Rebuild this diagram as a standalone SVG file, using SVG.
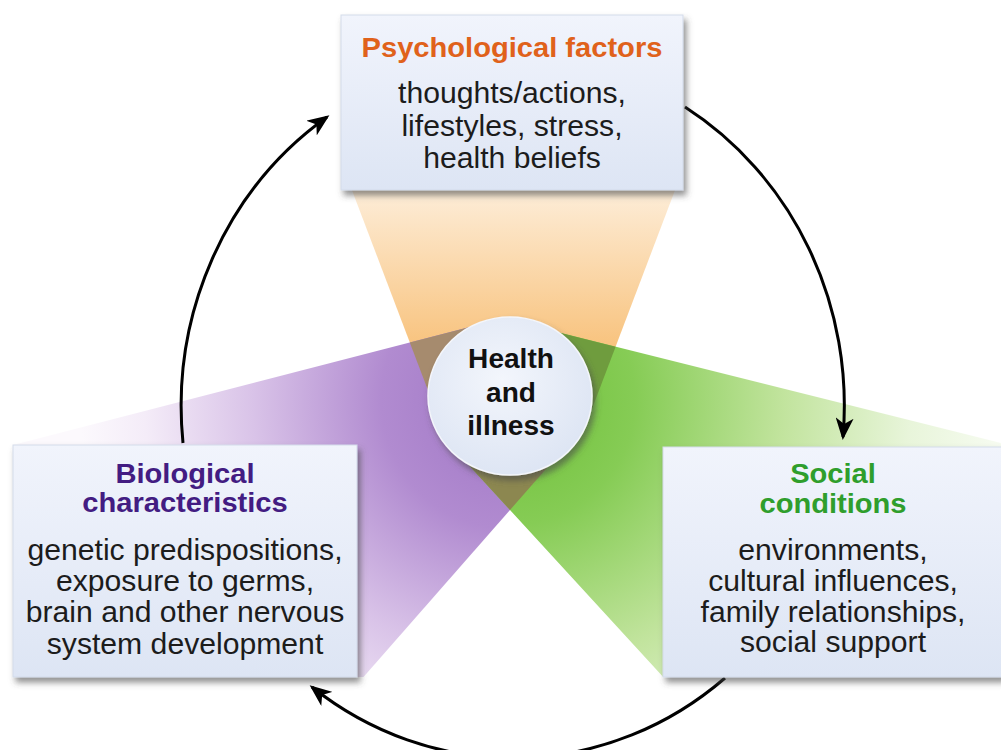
<svg xmlns="http://www.w3.org/2000/svg" width="1001" height="750" viewBox="0 0 1001 750">
<defs>
<style>
.title{font-family:"Liberation Sans",Arial,sans-serif;font-weight:bold;font-size:28px;text-anchor:middle}
.body{font-family:"Liberation Sans",Arial,sans-serif;font-size:29px;text-anchor:middle;fill:#1c1c1c}
.hub{font-family:"Liberation Sans",Arial,sans-serif;font-weight:bold;font-size:27px;text-anchor:middle;fill:#111}
.box{fill:url(#boxFill);stroke:#d3dbea;stroke-width:1;filter:url(#shadow)}
.conn{fill:none;stroke:#000;stroke-width:3;marker-end:url(#arrow)}
</style>
<linearGradient id="boxFill" x1="0" y1="0" x2="0" y2="1">
<stop offset="0" stop-color="#f1f4fc"/>
<stop offset="1" stop-color="#dde5f4"/>
</linearGradient>
<radialGradient id="hubFill" cx="0.45" cy="0.4" r="0.65">
<stop offset="0" stop-color="#f3f6fc"/>
<stop offset="1" stop-color="#dce4f3"/>
</radialGradient>
<linearGradient id="orangeG" gradientUnits="userSpaceOnUse" x1="0" y1="190" x2="0" y2="350">
<stop offset="0" stop-color="#fdedd8"/>
<stop offset="1" stop-color="#f8c27c"/>
</linearGradient>
<radialGradient id="purpleG" gradientUnits="userSpaceOnUse" cx="510" cy="400" r="430">
<stop offset="0" stop-color="#9f75c5"/>
<stop offset="0.3" stop-color="#b18bd0"/>
<stop offset="0.6" stop-color="#d9c3e8"/>
<stop offset="0.85" stop-color="#f4ecf8"/>
<stop offset="1" stop-color="#fcf9fd"/>
</radialGradient>
<radialGradient id="greenG" gradientUnits="userSpaceOnUse" cx="510" cy="400" r="500">
<stop offset="0" stop-color="#6cbf36"/>
<stop offset="0.25" stop-color="#86cc55"/>
<stop offset="0.55" stop-color="#c2e49e"/>
<stop offset="0.8" stop-color="#e8f5da"/>
<stop offset="1" stop-color="#f8fcf3"/>
</radialGradient>
<filter id="shadow" x="-10%" y="-10%" width="125%" height="130%">
<feDropShadow dx="3" dy="5" stdDeviation="3" flood-color="#4a4a4a" flood-opacity="0.6"/>
</filter>
<marker id="arrow" markerUnits="userSpaceOnUse" markerWidth="22" markerHeight="18" viewBox="0 0 22 18" refX="19" refY="9" orient="auto">
<path d="M0,0 L22,9 L0,18 L6,9 z" fill="#000"/>
</marker>
</defs>
<rect width="1001" height="750" fill="#fff"/>

<g id="wedges">
<polygon points="350,185 677,185 588.5,418 438.5,418" fill="url(#orangeG)"/>
<polygon points="13,445 490,321.8 555,458.7 510,510 363.5,677 13,677" fill="url(#purpleG)"/>
<polygon points="540,327.75 1003,443.5 1003,677 663.2,677 510,510 460,455.5" fill="url(#greenG)"/>
<polygon points="409.8,342.5 490,321.8 438.5,418" fill="#a68b6e"/>
<polygon points="615.6,346.7 540,327.75 588.5,418" fill="#6f9c3e"/>
<polygon points="510,510 460,455.5 555,458.7" fill="#8c8750"/>
</g>

<g id="connectors">
<path class="conn" d="M183,443 A333,350 0 0 1 327,117"/>
<path class="conn" d="M685,107 A333,350 0 0 1 843,437"/>
<path class="conn" d="M725,678 A333,350 0 0 1 312,687"/>
</g>

<g id="psychological">
<rect class="box" x="341" y="15" width="342" height="175"/>
<g transform="translate(512 0) scale(1.04 1)">
<text class="title" x="0" y="57" fill="#e0621b">Psychological factors</text>
<text class="body" x="0" y="103">thoughts/actions,</text>
<text class="body" x="0" y="136">lifestyles, stress,</text>
<text class="body" x="0" y="168">health beliefs</text>
</g>
</g>

<g id="biological">
<rect class="box" x="13" y="445" width="344" height="232"/>
<g transform="translate(185 0) scale(1.04 1)">
<text class="title" x="0" y="483" fill="#431c82">Biological</text>
<text class="title" x="0" y="512" fill="#431c82">characteristics</text>
<text class="body" x="0" y="560">genetic predispositions,</text>
<text class="body" x="0" y="591">exposure to germs,</text>
<text class="body" x="0" y="622">brain and other nervous</text>
<text class="body" x="0" y="654">system development</text>
</g>
</g>

<g id="social">
<rect class="box" x="663" y="447" width="340" height="230"/>
<g transform="translate(833 0) scale(1.04 1)">
<text class="title" x="0" y="483" fill="#2f9e2c">Social</text>
<text class="title" x="0" y="513" fill="#2f9e2c">conditions</text>
<text class="body" x="0" y="560">environments,</text>
<text class="body" x="0" y="591">cultural influences,</text>
<text class="body" x="0" y="622">family relationships,</text>
<text class="body" x="0" y="652">social support</text>
</g>
</g>

<g id="health">
<ellipse cx="510" cy="396" rx="82" ry="79" fill="url(#hubFill)" stroke="#f4f6fb" stroke-width="1.5" filter="url(#shadow)"/>
<g transform="translate(511 0) scale(1.04 1)">
<text class="hub" x="0" y="368">Health</text>
<text class="hub" x="0" y="402">and</text>
<text class="hub" x="0" y="435">illness</text>
</g>
</g>
</svg>
